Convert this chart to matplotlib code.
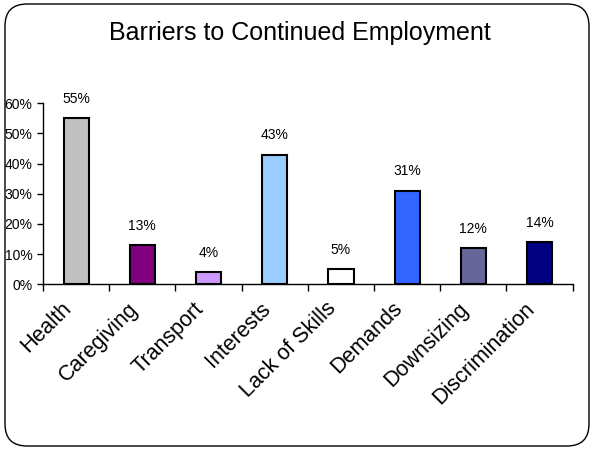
import matplotlib
matplotlib.use("Agg")
import matplotlib.pyplot as plt
import matplotlib.transforms as mtransforms
from matplotlib.patches import FancyBboxPatch
from matplotlib.ticker import PercentFormatter
import numpy as np

plt.rcParams['font.family'] = ['Liberation Sans', 'DejaVu Sans']

# chart data
categories = ["Health", "Caregiving", "Transport", "Interests",
              "Lack of Skills", "Demands", "Downsizing", "Discrimination"]
values = [55, 13, 4, 43, 5, 31, 12, 14]
bar_colors = ["#C0C0C0", "#800080", "#CC99FF", "#99CCFF",
              "#FFFFFF", "#3366FF", "#666699", "#000080"]
y_ticks = [0, 10, 20, 30, 40, 50, 60]

fig = plt.figure(figsize=(5.94, 4.49), dpi=100)

# rounded outer frame
frame = FancyBboxPatch((0.05, 0.03), 5.84, 4.42,
                       boxstyle="round,pad=0,rounding_size=0.22",
                       transform=fig.dpi_scale_trans,
                       facecolor="white", edgecolor="black", linewidth=1.0,
                       zorder=-10)
fig.patches.append(frame)

ax = fig.add_axes([43 / 594, 1 - 284.3 / 449, 529.7 / 594, 181 / 449])
ax.patch.set_alpha(0)

x = np.arange(len(categories))
ax.bar(x, values, width=0.38, color=bar_colors, edgecolor="black", linewidth=1.5)

for xi, v in zip(x, values):
    ax.annotate(f"{v}%", (xi, v), xytext=(0, 14), textcoords="offset points",
                ha="center", va="center", fontsize=10)

ax.set_xlim(-0.5, len(categories) - 0.5)
ax.set_ylim(0, 60)
ax.set_yticks(y_ticks)
ax.yaxis.set_major_formatter(PercentFormatter(decimals=0))
ax.tick_params(axis="y", labelsize=10, length=4, width=1, direction="out")

ax.set_xticks(x)
ax.set_xticklabels(categories, rotation=45, ha="right", va="top",
                   rotation_mode="anchor", fontsize=15.5)
ax.set_xticks(np.arange(len(categories) + 1) - 0.5, minor=True)
ax.tick_params(axis="x", which="major", length=0, pad=10)
ax.tick_params(axis="x", which="minor", length=5, width=1, direction="out")

# nudge the slanted labels left so they end just left of each bar
shift = mtransforms.ScaledTranslation(-0.15, 0, fig.dpi_scale_trans)
for lab in ax.get_xticklabels():
    lab.set_transform(lab.get_transform() + shift)

for side in ["top", "right"]:
    ax.spines[side].set_visible(False)
for side in ["left", "bottom"]:
    ax.spines[side].set_linewidth(1.0)

fig.text(0.505, 1 - 33 / 449, "Barriers to Continued Employment",
         ha="center", va="center", fontsize=18)

fig.savefig("out.png", dpi=100)
